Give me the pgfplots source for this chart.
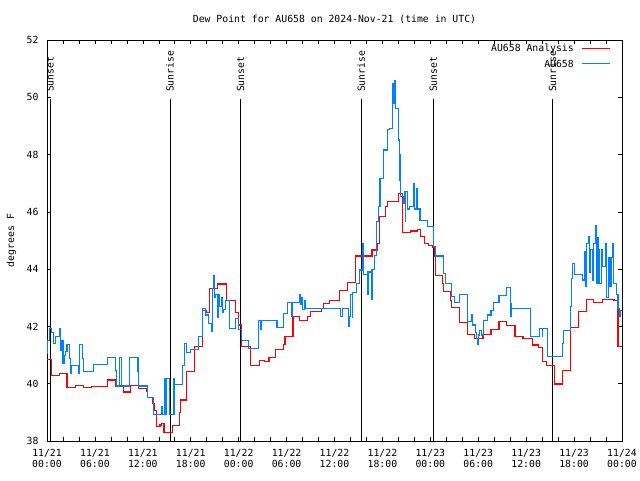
\documentclass[border=0pt]{standalone}
\usepackage{pgfplots}
\pgfplotsset{compat=1.18}
\usepackage{fontspec}
\setmainfont{DejaVu Sans Mono}
\definecolor{obsblue}{RGB}{0,128,255}
\definecolor{anared}{RGB}{255,0,0}
\begin{document}
\begin{tikzpicture}[font=\fontsize{9.8pt}{11pt}\selectfont]
\useasboundingbox (0,0) rectangle (640pt,480pt);
\begin{axis}[
 at={(47pt,39pt)}, anchor=south west,
 scale only axis, width=575pt, height=401pt,
 xmin=0, xmax=72, ymin=38, ymax=52,
 xtick={0,6,...,72},
 xticklabels={{11/21\\00:00},{11/21\\06:00},{11/21\\12:00},{11/21\\18:00},{11/22\\00:00},{11/22\\06:00},{11/22\\12:00},{11/22\\18:00},{11/23\\00:00},{11/23\\06:00},{11/23\\12:00},{11/23\\18:00},{11/24\\00:00}},
 xticklabel style={align=center, yshift=-5pt},
 minor x tick num=2,
 ytick={38,40,...,52},
 yticklabel style={xshift=-5pt},
 tick align=inside, major tick length=4pt, minor tick length=4pt,
 tick style={black, line width=0.6pt},
 axis line style={black, line width=0.8pt},
 /pgf/number format/assume math mode=true,
 title={Dew Point for AU658 on 2024-Nov-21 (time in UTC)},
 title style={at={(0.5,1)}, anchor=base, yshift=11pt, inner sep=0pt},
 ylabel={degrees F},
 ylabel style={at={(axis description cs:-0.062,0.5)}, anchor=center},
]
% sunrise / sunset lines
\addplot[black, line width=0.8pt, forget plot] coordinates {(0.375,38) (0.375,49.95)};
\addplot[black, line width=0.8pt, forget plot] coordinates {(15.4,38) (15.4,49.95)};
\addplot[black, line width=0.8pt, forget plot] coordinates {(24.25,38) (24.25,49.95)};
\addplot[black, line width=0.8pt, forget plot] coordinates {(39.36,38) (39.36,49.95)};
\addplot[black, line width=0.8pt, forget plot] coordinates {(48.38,38) (48.38,49.95)};
\addplot[black, line width=0.8pt, forget plot] coordinates {(63.3,38) (63.3,49.95)};
\node[rotate=90, anchor=west, inner sep=0pt] at (axis cs:0.375,50.18) {Sunset};
\node[rotate=90, anchor=west, inner sep=0pt] at (axis cs:15.4,50.18) {Sunrise};
\node[rotate=90, anchor=west, inner sep=0pt] at (axis cs:24.25,50.18) {Sunset};
\node[rotate=90, anchor=west, inner sep=0pt] at (axis cs:39.36,50.18) {Sunrise};
\node[rotate=90, anchor=west, inner sep=0pt] at (axis cs:48.38,50.18) {Sunset};
\node[rotate=90, anchor=west, inner sep=0pt] at (axis cs:63.3,50.18) {Sunrise};
% analysis
\addplot[color=anared, line width=1.1pt, const plot, forget plot] coordinates {
(0,40.83) (0.6,40.30) (1.6,40.36) (2.5,39.87) (3.6,39.94) (4.6,39.87) (5.6,39.91)
(7.55,40.13) (8.55,39.92) (9.56,39.71) (10.5,39.94) (11.5,39.84) (12.5,39.73)
(12.6,39.52) (13.2,39.31) (13.5,39.08) (13.7,38.50) (14.15,38.56) (14.3,38.62)
(14.65,38.31) (15.7,38.54) (16.6,38.99) (16.7,39.43) (17.5,40.43) (18.5,41.29)
(19.5,42.57) (20.0,42.50) (20.4,43.33) (21.4,43.48) (22.5,42.92) (23.6,42.50)
(24.0,42.05) (24.3,41.30) (25.5,40.65) (26.6,40.82) (27.2,40.76) (27.8,40.91)
(28.6,41.20) (29.6,41.37) (29.8,41.66) (30.8,42.34) (31.6,42.21) (32.6,42.34)
(33.0,42.51) (34.4,42.63) (34.6,42.81) (35.4,42.92) (36.6,43.25) (37.6,43.52)
(38.6,44.46) (40.7,44.67) (41.4,44.90) (41.6,45.83) (42.4,46.20) (42.6,46.37)
(44.0,46.65) (44.5,45.29) (45.5,45.33) (46.4,45.38) (46.8,45.13) (47.3,44.90)
(47.8,44.84) (48.3,44.77) (48.5,44.43) (48.7,43.79) (49.5,43.50) (49.6,43.21)
(50.5,42.92) (50.7,42.66) (51.6,42.13) (52.6,41.73) (53.5,41.57) (54.6,41.73)
(55.6,41.90) (56.6,42.18) (57.5,42.04) (58.6,41.64) (59.6,41.59) (60.8,41.35)
(61.6,41.25) (62.0,40.77) (62.6,40.65) (63.5,39.99) (64.5,40.47) (65.6,41.97)
(66.6,42.53) (67.5,42.95) (68.4,42.85) (69.6,42.95) (71.0,42.90) (71.5,41.29)
(72,41.29)};
% observations
\addplot[color=obsblue, line width=1.1pt, const plot, forget plot] coordinates {
(0,41.06) (0.05,41.41) (0.1,41.52) (0.3,41.93) (0.6,41.80) (0.8,41.41) (1.1,41.66)
(1.55,41.93) (1.7,41.17) (1.85,41.52) (2.0,40.71) (2.15,41.00) (2.3,41.11)
(2.5,41.37) (2.8,40.89) (2.9,40.36) (3.0,40.64) (3.9,40.36) (4.1,41.37) (4.4,40.89)
(4.6,40.42) (5.8,40.68) (7.6,40.92) (8.6,40.45) (8.7,39.92) (9.1,40.92) (9.3,39.92)
(10.3,40.92) (11.3,40.44) (11.4,40.92) (11.5,39.92) (12.6,39.52) (13.3,38.93)
(14.3,39.22) (14.4,38.93) (14.7,40.19) (14.8,38.93) (14.9,40.19) (15.35,38.93)
(15.9,40.19) (16.0,39.96) (17.0,40.65) (17.2,41.39) (17.5,41.10) (18.0,41.20)
(19.0,41.64) (19.5,42.63) (19.8,42.40) (20.2,42.10) (20.6,41.82) (20.7,43.33)
(20.9,43.79) (21.0,43.00) (21.15,43.10) (21.3,42.30) (21.45,43.10) (21.6,42.70)
(21.8,43.00) (21.95,42.50) (22.1,42.60) (22.3,42.92) (22.9,41.93) (23.6,42.28)
(24.0,41.90) (24.3,41.52) (25.2,41.23) (26.5,42.22) (26.7,41.90) (26.8,42.22)
(28.8,41.95) (29.6,42.46) (30.1,42.83) (30.6,42.36) (30.7,42.83) (31.6,43.10)
(31.7,42.75) (31.8,43.00) (32.0,42.60) (32.2,42.90) (32.4,42.63) (36.8,42.34)
(37.0,42.63) (37.8,41.99) (37.9,42.34) (38.0,43.10) (38.2,42.30) (38.3,43.20)
(38.7,43.50) (39.1,43.97) (39.5,44.90) (39.6,43.80) (40.1,43.10) (40.2,43.90)
(40.6,42.94) (40.7,44.00) (41.0,44.48) (41.3,45.66) (41.5,46.18) (41.7,47.17)
(42.1,48.16) (42.6,48.86) (42.9,48.90) (43.3,50.49) (43.4,49.80) (43.5,50.60)
(43.6,49.60) (44.0,48.51) (44.1,47.10) (44.2,48.00) (44.3,46.53) (44.6,46.30)
(44.8,46.70) (44.85,45.66) (44.9,46.70) (45.1,46.10) (45.4,46.20) (45.9,47.00)
(46.0,46.10) (46.3,46.80) (46.4,46.10) (46.7,45.71) (47.6,45.50) (48.4,44.79)
(48.7,44.46) (49.6,43.85) (49.9,43.50) (50.7,43.04) (51.0,42.83) (51.6,43.13)
(52.6,42.16) (53.1,42.40) (53.3,42.05) (53.6,41.80) (53.8,41.58) (53.9,41.36)
(54.0,41.70) (54.2,41.85) (54.4,41.70) (54.7,42.22) (55.2,42.40) (55.6,42.57)
(55.9,42.83) (56.6,43.08) (57.5,43.36) (58.0,42.34) (58.1,42.80) (58.2,42.63)
(60.5,41.64) (61.7,41.93) (62.0,41.64) (62.1,41.93) (62.7,40.94) (64.6,41.40)
(64.7,41.85) (65.6,42.69) (65.7,43.68) (65.8,44.20) (66.1,43.80) (67.0,43.62)
(67.3,44.61) (67.4,43.40) (67.5,44.90) (67.8,45.13) (67.9,43.90) (68.0,44.70)
(68.3,43.60) (68.4,44.90) (68.7,45.51) (68.8,43.50) (69.0,45.10) (69.1,44.70)
(69.2,43.50) (69.4,44.70) (69.6,44.10) (69.9,44.90) (70.0,44.20) (70.1,43.00)
(70.3,44.40) (70.5,43.40) (70.7,44.40) (70.8,44.90) (70.9,43.50) (71.3,43.10)
(71.5,42.63) (71.7,42.34) (71.85,42.55) (72,42.55)};
% key
\draw[anared, line width=1pt] ([xshift=-40pt,yshift=-8.5pt]rel axis cs:1,1) -- ([xshift=-12pt,yshift=-8.5pt]rel axis cs:1,1);
\draw[obsblue, line width=1pt] ([xshift=-40pt,yshift=-23.5pt]rel axis cs:1,1) -- ([xshift=-12pt,yshift=-23.5pt]rel axis cs:1,1);
\node[anchor=east, inner sep=0pt] at ([xshift=-48pt,yshift=-9pt]rel axis cs:1,1) {AU658 Analysis};
\node[anchor=east, inner sep=0pt] at ([xshift=-48pt,yshift=-24pt]rel axis cs:1,1) {AU658};
\end{axis}
\end{tikzpicture}
\end{document}
